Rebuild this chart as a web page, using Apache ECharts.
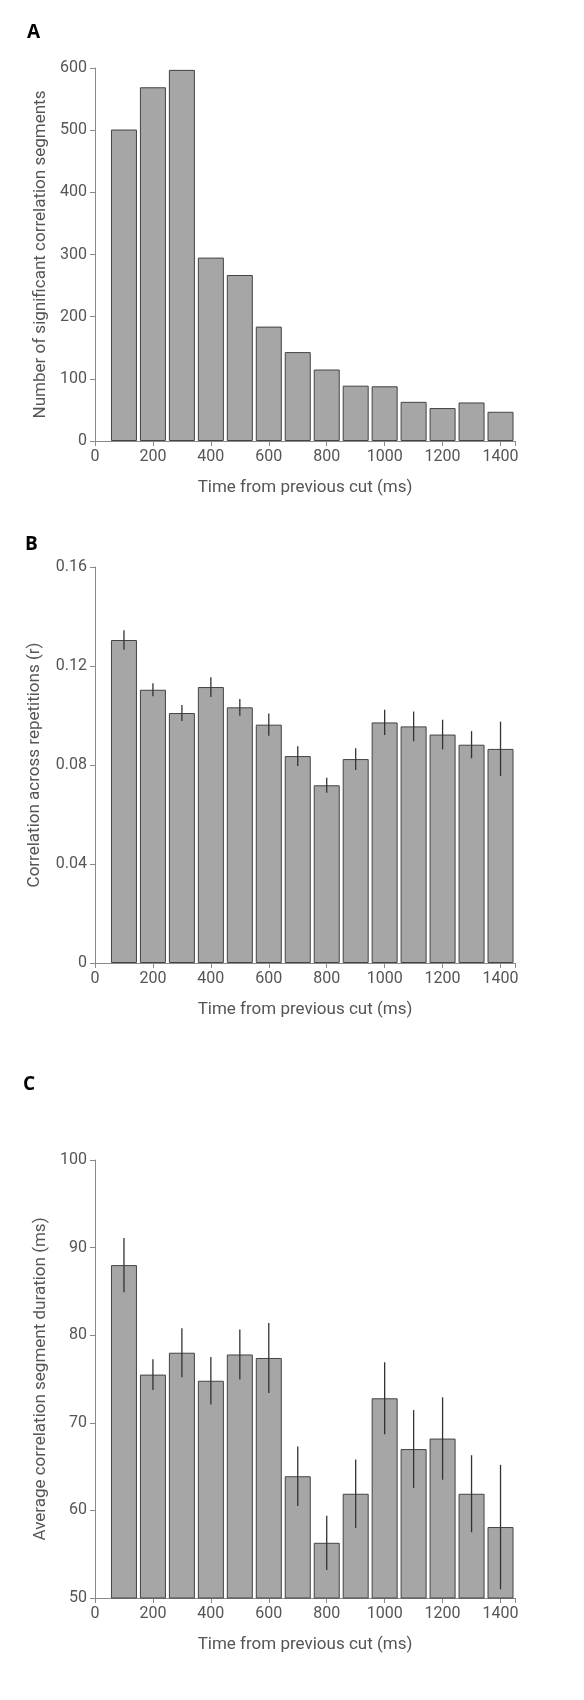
<!DOCTYPE html>
<html><head><meta charset="utf-8">
<script src="https://cdn.jsdelivr.net/npm/echarts@6/dist/echarts.min.js"></script>
<style>html,body{margin:0;background:#fff}#c{width:584px;height:1700px}</style>
</head><body><div id="c"></div>
<script>
const times = [100,200,300,400,500,600,700,800,900,1000,1100,1200,1300,1400];
const countA = [501,569,597,295,267,184,143,115,89,88,63,53,62,47];
const corrB = [0.1305,0.1104,0.101,0.1115,0.1033,0.0963,0.0836,0.0718,0.0824,0.0972,0.0956,0.0923,0.0882,0.0865];
const corrBErr = [0.0039,0.0026,0.0032,0.004,0.0034,0.0045,0.004,0.003,0.0044,0.0051,0.006,0.006,0.0055,0.011];
const durC = [88.0,75.5,78.0,74.8,77.8,77.4,63.9,56.3,61.9,72.8,67.0,68.2,61.9,58.1];
const durCErr = [3.1,1.75,2.8,2.7,2.85,4.0,3.4,3.1,3.9,4.1,4.45,4.7,4.4,7.1];
const xTicks = [0,200,400,600,800,1000,1200,1400];

const font = 'Roboto';
const axCol = '#8a8a8a', txtCol = '#555';
const grids = [
  {left:95, width:420, top:68, height:373},
  {left:95, width:420, top:567, height:396},
  {left:95, width:420, top:1160, height:438}
];
function xAx(i){return {type:'value',gridIndex:i,min:0,max:1450,interval:200,
  axisLine:{lineStyle:{color:axCol}},axisTick:{lineStyle:{color:axCol},length:5},
  splitLine:{show:false},axisLabel:{color:txtCol,fontSize:16,fontFamily:font,
  formatter:v=>xTicks.includes(v)?String(v):''},
  name:'Time from previous cut (ms)',nameLocation:'middle',nameGap:38,
  nameTextStyle:{color:txtCol,fontSize:17,fontFamily:font}};}
function yAx(i,min,max,interval,name,fmt){return {type:'value',gridIndex:i,min,max,interval,
  axisLine:{show:true,lineStyle:{color:axCol}},axisTick:{show:true,lineStyle:{color:axCol},length:5},
  splitLine:{show:false},axisLabel:{color:txtCol,fontSize:16,fontFamily:font,formatter:fmt},
  name,nameLocation:'middle',nameGap:fmt?52:46,nameTextStyle:{color:txtCol,fontSize:17,fontFamily:font}};}
function bars(i,vals){return {type:'bar',xAxisIndex:i,yAxisIndex:i,barWidth:26,
  data:times.map((t,k)=>[t,vals[k]]),
  itemStyle:{color:'#a6a6a6',borderColor:'#444',borderWidth:1},silent:true};}
function errs(i,vals,e){return {type:'custom',xAxisIndex:i,yAxisIndex:i,silent:true,z:5,
  data:times.map((t,k)=>[t,vals[k]-e[k],vals[k]+e[k]]),
  renderItem:(p,api)=>{const a=api.coord([api.value(0),api.value(1)]);const b=api.coord([api.value(0),api.value(2)]);
    return {type:'line',shape:{x1:a[0],y1:a[1],x2:b[0],y2:b[1]},style:{stroke:'#333',lineWidth:1.3}};}};}
const chart = echarts.init(document.getElementById('c'),null,{renderer:'canvas'});
chart.setOption({
  animation:false,
  grid:grids,
  title:[
    {text:'A',left:22,top:18,textStyle:{fontSize:19,fontWeight:'bold',fontFamily:'Open Sans',color:'#000'}},
    {text:'B',left:20,top:530,textStyle:{fontSize:19,fontWeight:'bold',fontFamily:'Open Sans',color:'#000'}},
    {text:'C',left:18,top:1070,textStyle:{fontSize:19,fontWeight:'bold',fontFamily:'Open Sans',color:'#000'}}
  ],
  xAxis:[xAx(0),xAx(1),xAx(2)],
  yAxis:[
    yAx(0,0,600,100,'Number of significant correlation segments'),
    yAx(1,0,0.16,0.04,'Correlation across repetitions (r)',v=>v===0?'0':v.toFixed(2)),
    yAx(2,50,100,10,'Average correlation segment duration (ms)')
  ],
  series:[bars(0,countA),bars(1,corrB),errs(1,corrB,corrBErr),bars(2,durC),errs(2,durC,durCErr)]
});
</script></body></html>
